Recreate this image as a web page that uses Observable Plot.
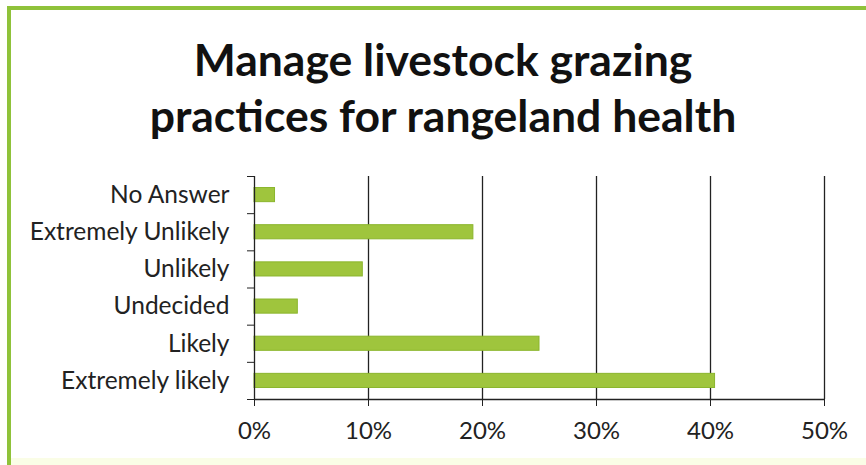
<!DOCTYPE html>
<html>
<head>
<meta charset="utf-8">
<script src="https://cdn.jsdelivr.net/npm/d3@7"></script>
<script src="https://cdn.jsdelivr.net/npm/@observablehq/plot@0.6"></script>
<style>
  html, body { margin: 0; padding: 0; background: #fff; }
  #wrap { position: relative; width: 866px; height: 465px; overflow: hidden; background: #fff; }
  #bl { position: absolute; left: 7px; top: 6px; width: 4px; height: 459px; background: #8fc23a; }
  #bt { position: absolute; left: 7px; top: 6px; width: 859px; height: 4px; background: #8fc23a; }
  #bb { position: absolute; left: 11px; top: 458px; width: 855px; height: 7px; background: #fafde6; }
  #title { position: absolute; left: 0; top: 31px; width: 886px; text-align: center;
           font-family: Lato, "Open Sans", sans-serif; font-weight: bold; font-size: 44.5px;
           line-height: 56px; color: #111; }
  #chart { position: absolute; left: 0; top: 160px; }
</style>
</head>
<body>
<div id="wrap">
  <div id="bl"></div><div id="bt"></div><div id="bb"></div>
  <div id="title">Manage livestock grazing<br>practices for rangeland health</div>
  <div id="chart"></div>
</div>
<script>
const categories = ["No Answer", "Extremely Unlikely", "Unlikely", "Undecided", "Likely", "Extremely likely"];
const values = [0.018, 0.192, 0.095, 0.038, 0.250, 0.404];
const xTicks = [0, 0.1, 0.2, 0.3, 0.4, 0.5];

const rows = categories.map((c, i) => ({category: c, value: values[i], index: i}));
const bounds = d3.range(categories.length + 1);

const chart = Plot.plot({
  width: 866,
  height: 300,
  marginLeft: 254,
  marginRight: 42,
  marginTop: 16,
  marginBottom: 61,
  style: {fontFamily: "Lato, 'Open Sans', sans-serif", fontSize: "24px", color: "#222", background: "transparent"},
  x: {domain: [0, 0.5], ticks: xTicks, tickFormat: d3.format(".0%"), tickSize: 7, tickPadding: 15, label: null},
  y: {domain: [categories.length, 0], ticks: bounds, tickFormat: () => "", tickSize: 7, label: null},
  marks: [
    Plot.ruleX(xTicks.slice(1), {stroke: "#222", strokeWidth: 1.3}),
    Plot.rectX(rows, {
      x1: 0, x2: "value",
      y1: d => d.index + 0.31, y2: d => d.index + 0.69,
      fill: "#9fc53d", stroke: "#8ab52c", strokeWidth: 1
    }),
    Plot.ruleX([0], {stroke: "#222", strokeWidth: 1.3}),
    Plot.ruleY([categories.length], {stroke: "#222", strokeWidth: 1.3}),
    Plot.text(rows, {
      x: 0, y: d => d.index + 0.5, text: "category",
      textAnchor: "end", dx: -25, fill: "#222", fontSize: 24.5
    })
  ]
});
document.getElementById("chart").appendChild(chart);
</script>
</body>
</html>
